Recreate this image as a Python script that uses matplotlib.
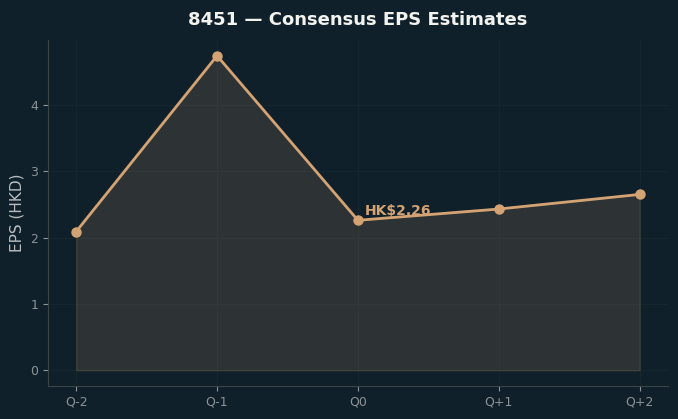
import matplotlib
matplotlib.use('Agg')
import matplotlib.pyplot as plt

# data
quarters = ['Q-2', 'Q-1', 'Q0', 'Q+1', 'Q+2']
eps = [2.09, 4.74, 2.26, 2.43, 2.65]
current_label = 'HK$2.26'

bg = '#10202a'
line_c = '#d4a373'
tick_c = '#8c9396'
spine_c = '#3b4549'

fig = plt.figure(figsize=(6.78, 4.19), dpi=100, facecolor=bg)
ax = fig.add_axes([0.0708, 0.0788, 0.9142, 0.8257])
ax.set_facecolor(bg)

x = list(range(len(quarters)))
ax.fill_between(x, eps, 0, color=line_c, alpha=0.15)
ax.plot(x, eps, color=line_c, lw=2, marker='o', ms=6.5, zorder=3)

ax.annotate(current_label, (x[2], eps[2]), xytext=(5, 2), textcoords='offset points',
            color=line_c, fontsize=10, fontweight='bold', ha='left', va='bottom')

ax.set_xticks(x)
ax.set_xticklabels(quarters)
ax.set_yticks([0, 1, 2, 3, 4])
ax.tick_params(colors=tick_c, labelsize=9)
for s in ['top', 'right']:
    ax.spines[s].set_visible(False)
for s in ['left', 'bottom']:
    ax.spines[s].set_color(spine_c)
ax.grid(True, color='#18282f', lw=0.6)
ax.set_axisbelow(True)

ax.set_ylabel('EPS (HKD)', color='#b8bcbe', fontsize=11)
ax.set_title('8451 — Consensus EPS Estimates', color='#f2f2ee', fontsize=13,
             fontweight='bold', pad=11)

fig.savefig('out.png', dpi=100, facecolor=bg)
